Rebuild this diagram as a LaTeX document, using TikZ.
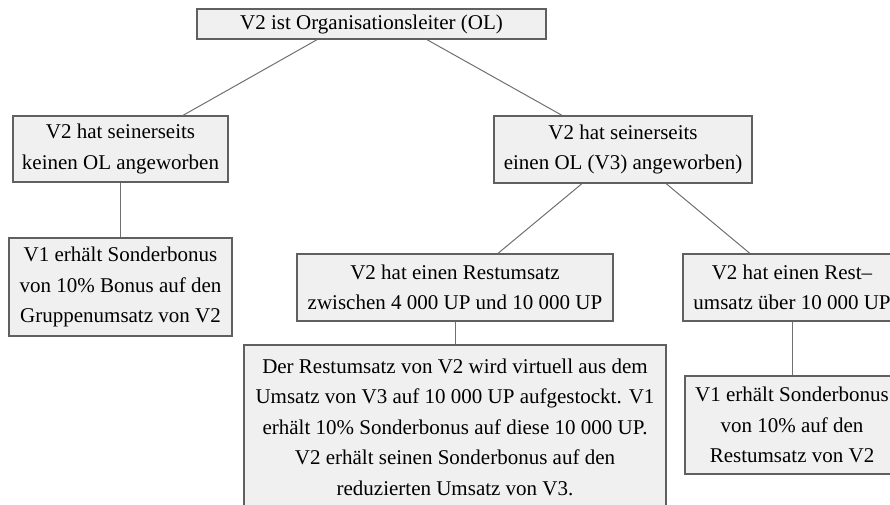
\documentclass[tikz,border=0pt]{standalone}
\usepackage{fontspec}
\setmainfont{Liberation Serif}
\usetikzlibrary{calc}
\definecolor{boxfill}{HTML}{F0F0F0}
\definecolor{boxline}{HTML}{606060}
\definecolor{linkline}{HTML}{707070}

\begin{document}
\begin{tikzpicture}[x=1pt, y=-1pt,
    box/.style={draw=boxline, fill=boxfill, line width=1.6pt, align=center, inner sep=0pt,
      font=\fontsize{21}{30.5}\selectfont},
    link/.style={draw=linkline, line width=1pt}]
  \useasboundingbox (0,0) rectangle (890,504);
  \clip (0,0) rectangle (890,504);
  % level 0
  \node[box, minimum width=349pt, minimum height=30pt] (ol) at (371.5,24) {V2 ist Organisationsleiter (OL)};
  % level 1
  \node[box, minimum width=215pt, minimum height=66pt] (kein) at (120.5,149) {V2 hat seinerseits\\keinen OL angeworben};
  \node[box, minimum width=258pt, minimum height=67pt] (einen) at (623,149.5) {V2 hat seinerseits\\einen OL (V3) angeworben)};
  % level 2
  \node[box, minimum width=223pt, minimum height=98pt] (sonderA) at (120.5,287) {V1 erhält Sonderbonus\\von 10\% Bonus auf den\\Gruppenumsatz von V2};
  \node[box, minimum width=316pt, minimum height=67pt] (restA) at (455,287.5) {V2 hat einen Restumsatz\\zwischen 4 000 UP und 10 000 UP};
  \node[box, minimum width=218pt, minimum height=67pt] (restB) at (792,287.5) {V2 hat einen Rest--\\umsatz über 10 000 UP};
  % level 3
  \node[box, minimum width=422pt, minimum height=164pt] (virtuell) at (455,427) {Der Restumsatz von V2 wird virtuell aus dem\\Umsatz von V3 auf 10 000 UP aufgestockt. V1\\erhält 10\% Sonderbonus auf diese 10 000 UP.\\V2 erhält seinen Sonderbonus auf den\\reduzierten Umsatz von V3.};
  \node[box, minimum width=214pt, minimum height=98pt] (sonderB) at (792,425) {V1 erhält Sonderbonus\\von 10\% auf den\\Restumsatz von V2};
  % connectors
  \draw[link] ($(ol.south west)!0.344!(ol.south east)$) -- ($(kein.north west)!0.79!(kein.north east)$);
  \draw[link] ($(ol.south west)!0.659!(ol.south east)$) -- ($(einen.north west)!0.264!(einen.north east)$);
  \draw[link] ($(einen.south west)!0.341!(einen.south east)$) -- ($(restA.north west)!0.636!(restA.north east)$);
  \draw[link] ($(einen.south west)!0.667!(einen.south east)$) -- ($(restB.north west)!0.307!(restB.north east)$);
  \draw[link] (kein.south) -- (sonderA.north);
  \draw[link] (restA.south) -- (virtuell.north);
  \draw[link] (restB.south) -- (sonderB.north);
\end{tikzpicture}
\end{document}
